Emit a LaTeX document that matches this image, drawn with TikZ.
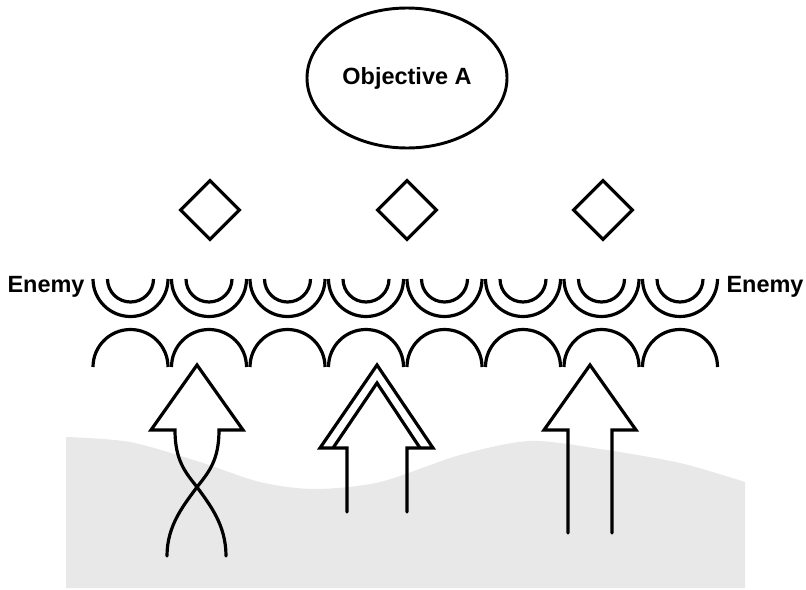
\documentclass[tikz,border=0pt]{standalone}
\usepackage{fontspec}
\setmainfont{Liberation Sans}
\usetikzlibrary{shapes.geometric}
\begin{document}
\begin{tikzpicture}[x=0.75pt,y=-0.75pt,
  ln/.style={line width=2.4pt, line join=miter},
  shaft/.style={line width=2.4pt, line join=miter, line cap=round},
  lbl/.style={font=\bfseries\fontsize{17.6}{20}\selectfont, inner sep=0pt},
  objnode/.style={ellipse, draw, line width=2.2pt, minimum width=150pt, minimum height=105pt, font=\bfseries\fontsize{17.6}{20}\selectfont},
  dia/.style={diamond, draw, line width=2.4pt, minimum width=45pt, minimum height=45pt, inner sep=0pt, aspect=1}
]
\useasboundingbox (0,0) rectangle (806,589);
% ground
\fill[gray!18] plot[smooth] coordinates {(66,437) (130,442) (200,462) (260,482) (315,489) (380,482) (460,455) (530,441) (600,449) (680,463) (745,482)} -- (745,588) -- (66,588) -- cycle;
% objective
\node[objnode] (obj) at (407,78) {Objective A};
% diamonds
\node[dia] (d1) at (210,210) {};
\node[dia] (d2) at (407,210) {};
\node[dia] (d3) at (603,210) {};
% enemy labels
\node[lbl] (el) at (46,287) {Enemy};
\node[lbl] (er) at (765,287) {Enemy};
% arcs
\foreach \i in {0,...,7}{
  \pgfmathsetmacro{\cx}{130.5+78.5*\i}
  \draw[ln] (\cx-37.5,279) arc[start angle=180,end angle=0,radius=37.5];
  \draw[ln] (\cx-23,279) arc[start angle=180,end angle=0,radius=23];
  \draw[ln] (\cx-37.5,367) arc[start angle=180,end angle=360,radius=37.5];
}
% arrow 1 (crossed shaft)
\draw[shaft] (226,556) .. controls (226,525) and (210,505) .. (197,487)
  .. controls (185,472) and (175,460) .. (175,430) -- (151,430) -- (197,365) -- (243,430) -- (219,430)
  .. controls (219,460) and (209,472) .. (197,487) .. controls (184,505) and (167,525) .. (167,556);
% arrow 2 (double head)
\draw[shaft] (347,512) -- (347,448) -- (320,448) -- (377,365) -- (433,448) -- (407,448) -- (407,512);
\draw[ln] (333,448) -- (377,383) -- (420,448);
% arrow 3
\draw[shaft] (568,533) -- (568,430) -- (544,430) -- (590,365) -- (636,430) -- (612,430) -- (612,533);
\end{tikzpicture}
\end{document}
